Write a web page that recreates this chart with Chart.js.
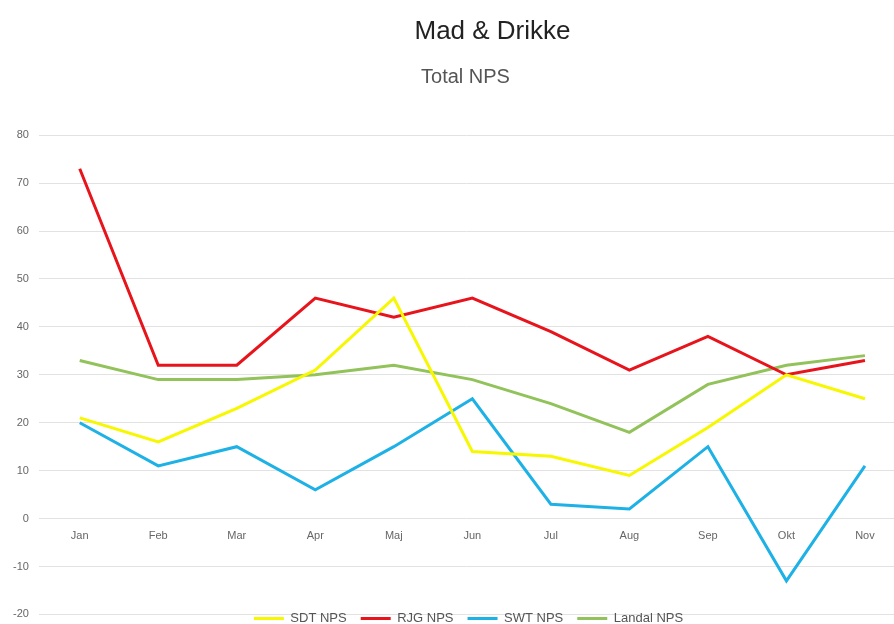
<!DOCTYPE html>
<html>
<head>
<meta charset="utf-8">
<script src="https://cdn.jsdelivr.net/npm/chart.js@4/dist/chart.umd.min.js"></script>
<style>
  html, body { margin: 0; padding: 0; background: #fff; overflow: hidden; }
  #wrap { width: 894px; height: 624px; overflow: hidden; }
</style>
</head>
<body>
<div id="wrap"><canvas id="npsChart" width="894" height="631"></canvas></div>
<script>
// data
const months = ['Jan', 'Feb', 'Mar', 'Apr', 'Maj', 'Jun', 'Jul', 'Aug', 'Sep', 'Okt', 'Nov'];
const sdtNps    = [21, 16, 23, 31, 46, 14, 13, 9, 19, 30, 25];
const rjgNps    = [73, 32, 32, 46, 42, 46, 39, 31, 38, 30, 33];
const swtNps    = [20, 11, 15, 6, 15, 25, 3, 2, 15, -13, 11];
const landalNps = [33, 29, 29, 30, 32, 29, 24, 18, 28, 32, 34];

const toPoints = arr => arr.map((v, i) => ({ x: i, y: v }));

function line(label, values, color) {
  return {
    label: label,
    data: toPoints(values),
    borderColor: color,
    backgroundColor: color,
    borderWidth: 3,
    pointRadius: 0,
    tension: 0,
    fill: false
  };
}

// legend sits on top of the bottom gridline, title/subtitle a bit right of centre
const layoutTweaks = {
  id: 'layoutTweaks',
  beforeLayout(chart) {
    const lg = chart.legend;
    if (lg && !lg._patched) {
      const fit = lg.fit;
      lg.fit = function () { fit.call(this); this.height = 10; };
      lg._patched = true;
    }
  },
  afterLayout(chart) {
    const lg = chart.legend;
    if (lg) {
      lg.top = 598; lg.bottom = 631;
      lg.left += 20; lg.right += 20;
    }
    const t = chart.titleBlock;
    if (t) { t.left += 44; t.right += 44; }
    chart.boxes.forEach(b => {
      if (b !== t && b.options && b.options.text === 'Total NPS') {
        b.left += 17; b.right += 17;
      }
    });
  }
};

new Chart(document.getElementById('npsChart').getContext('2d'), {
  type: 'line',
  data: {
    datasets: [
      line('SDT NPS', sdtNps, '#f7f700'),
      line('RJG NPS', rjgNps, '#e8141c'),
      line('SWT NPS', swtNps, '#1eb1e6'),
      line('Landal NPS', landalNps, '#92c25a')
    ]
  },
  options: {
    responsive: false,
    animation: false,
    layout: { padding: { left: 3, right: 0, top: 0, bottom: 0 } },
    plugins: {
      title: {
        display: true,
        text: 'Mad & Drikke',
        color: '#222',
        font: { family: 'Arial, Liberation Sans, sans-serif', size: 26, weight: 'normal' },
        padding: { top: 16, bottom: 16 }
      },
      subtitle: {
        display: true,
        text: 'Total NPS',
        color: '#555',
        font: { family: 'Arial, Liberation Sans, sans-serif', size: 20, weight: 'normal' },
        padding: { top: 2, bottom: 46 }
      },
      legend: {
        position: 'bottom',
        labels: {
          usePointStyle: true,
          pointStyle: 'line',
          pointStyleWidth: 30,
          padding: 14,
          color: '#555',
          font: { family: 'Arial, Liberation Sans, sans-serif', size: 13 }
        }
      },
      tooltip: { enabled: false }
    },
    scales: {
      x: {
        type: 'linear',
        position: { y: 0 },
        min: -0.52,
        max: 10.37,
        afterFit: s => { s.height = 0; },
        grid: { display: false },
        border: { display: false },
        ticks: {
          stepSize: 1,
          padding: 3,
          color: '#666',
          font: { family: 'Arial, Liberation Sans, sans-serif', size: 11 },
          callback: v => months[v] ?? ''
        },
        afterBuildTicks: axis => {
          axis.ticks = months.map((m, i) => ({ value: i }));
        }
      },
      y: {
        min: -20,
        max: 80,
        grid: { color: '#e2e2e2', drawTicks: false },
        border: { display: false },
        ticks: {
          stepSize: 10,
          padding: 10,
          color: '#666',
          font: { family: 'Arial, Liberation Sans, sans-serif', size: 11 }
        }
      }
    }
  },
  plugins: [layoutTweaks]
});
</script>
</body>
</html>
